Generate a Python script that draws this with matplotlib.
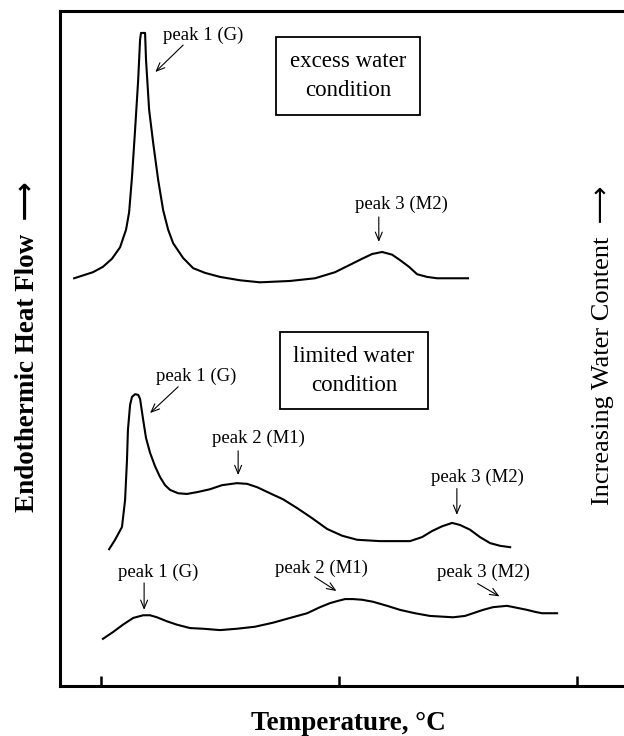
import matplotlib
matplotlib.use("Agg")
import matplotlib.pyplot as plt

plt.rcParams['font.family'] = ['Liberation Serif', 'DejaVu Sans']

# DSC thermograms (temperature in arbitrary units, heat flow offset per trace)
excess_T = [8.7, 16.6, 20.8, 24.6, 28.0, 30.5, 31.8, 33.0, 34.3, 35.6, 36.4, 36.8,
            38.5, 38.9, 40.2, 41.9, 44.0, 46.1, 48.2, 50.3, 54.5, 58.7, 63.7, 70.0,
            78.4, 86.8, 99.4, 109.9, 118.3, 124.6, 129.7, 133.9, 138.1, 142.3,
            145.6, 149.4, 152.8, 157.0, 161.2, 174.2]
excess_H = [60.5, 61.4, 62.2, 63.4, 65.1, 67.7, 70.3, 75.5, 82.5, 89.9, 95.9, 96.9,
            96.9, 92.9, 85.5, 80.6, 75.1, 70.6, 67.7, 65.7, 63.5, 62.0, 61.3, 60.7,
            60.2, 59.9, 60.1, 60.5, 61.4, 62.5, 63.4, 64.1, 64.4, 64.0,
            63.2, 62.2, 61.1, 60.7, 60.5, 60.5]

limited_T = [23.4, 25.9, 28.8, 30.1, 30.9, 31.3, 32.2, 33.0, 34.3, 35.6, 36.4, 37.7,
             38.9, 40.6, 42.7, 44.8, 46.9, 49.0, 52.4, 56.1, 60.8, 65.8, 70.8, 77.1,
             81.3, 85.6, 91.0, 96.5, 102.4, 108.7, 115.0, 121.3, 127.6, 137.2,
             149.8, 154.9, 159.1, 163.3, 167.5, 170.8, 175.0, 179.2, 183.5, 187.7,
             191.9]
limited_H = [20.3, 21.7, 23.6, 27.6, 33.5, 38.0, 41.7, 42.9, 43.3, 43.2, 42.6, 39.5,
             36.8, 34.6, 32.6, 31.0, 29.8, 29.1, 28.6, 28.5, 28.8, 29.2, 29.8, 30.1,
             30.0, 29.5, 28.6, 27.7, 26.4, 24.9, 23.3, 22.3, 21.7, 21.5,
             21.5, 22.1, 23.0, 23.7, 24.2, 23.9, 23.2, 22.1, 21.2, 20.8,
             20.6]

low_T = [20.8, 25.0, 29.2, 33.5, 37.7, 40.6, 43.5, 47.7, 51.9, 57.4, 62.9, 70.0,
         77.1, 84.7, 92.3, 99.4, 106.6, 112.0, 116.2, 119.2, 122.5, 125.9, 129.7,
         134.3, 140.2, 145.6, 151.9, 158.2, 167.9, 172.9, 176.3, 180.5, 184.7,
         190.6, 194.8, 199.0, 202.4, 205.3, 211.6]
low_H = [7.0, 8.0, 9.1, 10.1, 10.5, 10.5, 10.2, 9.6, 9.1, 8.6, 8.5, 8.3,
         8.5, 8.8, 9.4, 10.1, 10.8, 11.7, 12.3, 12.6, 12.9, 12.9, 12.8,
         12.5, 11.9, 11.3, 10.8, 10.4, 10.2, 10.4, 10.8, 11.3, 11.7,
         11.9, 11.6, 11.3, 11.0, 10.8, 10.8]

# peak labels: text, text position, arrow tail, arrow tip
peak_labels = [
    ('peak 1 (G)', (63.0, 96.6), (54.5, 95.1), (42.8, 91.1)),
    ('peak 3 (M2)', (146.3, 71.4), (136.7, 69.6), (136.7, 65.9)),
    ('peak 1 (G)', (59.9, 45.9), (52.4, 44.4), (40.6, 40.5)),
    ('peak 2 (M1)', (86.0, 36.8), (77.6, 34.9), (77.6, 31.3)),
    ('peak 3 (M2)', (178.2, 30.9), (169.5, 29.3), (169.5, 25.4)),
    ('peak 1 (G)', (44.0, 16.8), (38.1, 15.3), (38.1, 11.3)),
    ('peak 2 (M1)', (112.4, 17.5), (109.7, 16.2), (118.9, 14.1)),
    ('peak 3 (M2)', (180.7, 16.8), (178.2, 15.2), (187.4, 13.3)),
]

conditions = [('excess water\ncondition', (123.8, 90.5)),
              ('limited water\ncondition', (126.3, 46.8))]

fig = plt.figure(figsize=(6.24, 7.36), dpi=100)
ax = fig.add_axes([0.0962, 0.0679, 0.92, 0.9171])

for T, H in [(excess_T, excess_H), (limited_T, limited_H), (low_T, low_H)]:
    ax.plot(T, H, color='black', lw=1.5, solid_joinstyle='round')

for label, txt, tail, tip in peak_labels:
    ax.text(txt[0], txt[1], label, fontsize=13.5, ha='center', va='center')
    ax.annotate('', xy=tip, xytext=tail,
                arrowprops=dict(arrowstyle='->,head_length=0.6,head_width=0.25',
                                lw=0.8, color='black', shrinkA=0, shrinkB=0))

for label, pos in conditions:
    ax.text(pos[0], pos[1], label, fontsize=16.5, ha='center', va='center',
            linespacing=1.5, multialignment='center',
            bbox=dict(boxstyle='square,pad=0.6', fc='white', ec='black', lw=1.3))

ax.set_xlim(2.77, 243.97)
ax.set_ylim(0, 100.15)
ax.set_xticks([20, 120, 220])
ax.set_xticklabels([])
ax.set_yticks([])
ax.tick_params(axis='x', direction='in', length=7, width=1.8)
ax.spines['right'].set_visible(False)
for s in ['left', 'top', 'bottom']:
    ax.spines[s].set_linewidth(2.2)

fig.text(348 / 624, 1 - 723 / 736, 'Temperature, °C', fontsize=19.5,
         fontweight='bold', ha='center', va='center')
fig.text(28 / 624, 1 - 347 / 736, 'Endothermic Heat Flow  ⟶', fontsize=19.5,
         fontweight='bold', rotation=90, ha='center', va='center')
fig.text(603 / 624, 1 - 345 / 736, 'Increasing Water Content  ⟶', fontsize=19,
         rotation=90, ha='center', va='center')

fig.savefig('out.png', dpi=100)
